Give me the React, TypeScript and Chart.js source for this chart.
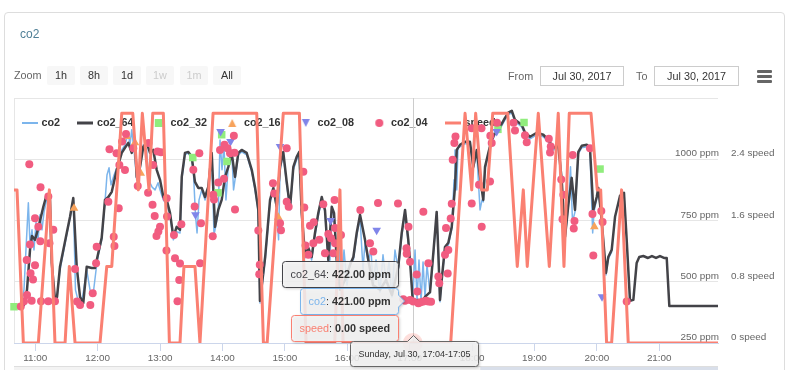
import React, { useEffect, useRef } from 'react';
import { Chart, registerables } from 'chart.js';

Chart.register(...registerables);

const FONT = '"Liberation Sans", Arial, Helvetica, sans-serif';

// x values are minutes after midnight (Jul 30, 2017)
const X_MIN = 639.6;
const X_MAX = 1316.5;
const HOUR_TICKS = [660, 720, 780, 840, 900, 960, 1020, 1080, 1140, 1200, 1260];
const HOUR_LABELS = ['11:00', '12:00', '13:00', '14:00', '15:00', '16:00', '17:00', '18:00', '19:00', '20:00', '21:00'];
const PPM_MIN = 250;
const PPM_MAX = 1250;
const PPM_STEP = 250;
const SPEED_MIN = 0;
const SPEED_MAX = 3.2;
const SPEED_STEP = 0.8;

const HOVER_TIME = 1023.0;
const HOVER_HEADER = 'Sunday, Jul 30, 17:04-17:05';
const NAV_MASK_START = 1088;

const C_CO2 = '#7cb5ec';
const C_64 = '#434348';
const C_32 = '#90ed7d';
const C_16 = '#f7a35c';
const C_08 = '#8085e9';
const C_04 = '#f15c80';
const C_SPEED = '#fa8072';

const CO2: [number, number][] = [
  [647.3,426],[649.2,467],[651.1,630],[653.4,822],[655.0,650],[656.9,712],[658.8,630],[660.8,744],[662.7,671],[664.6,773],
  [666.5,712],[668.5,785],[671.0,834],[673.3,814],[675.9,569],[679.0,426],[681.0,438],[683.8,548],[690.3,691],[693.5,761],
  [696.6,834],[698.7,467],[701.1,426],[705.0,422],[709.5,548],[712.7,467],[715.6,446],[718.5,548],[720.7,610],[723.9,671],
  [727.1,826],[729.0,936],[731.0,965],[732.9,895],[735.8,936],[738.4,965],[743.2,1038],[746.3,1059],[749.5,1108],[751.1,1059],
  [752.8,1120],[755.0,1038],[757.6,916],[760.8,965],[763.9,1059],[767.2,1038],[768.9,916],[772.3,887],[775.2,875],[778.1,904],
  [780.0,875],[783.2,834],[786.4,814],[789.6,773],[792.8,671],[796.0,704],[799.2,699],[800.9,916],[804.0,1018],[807.2,1026],
  [810.5,998],[812.0,957],[814.1,773],[815.6,699],[817.5,834],[820.1,875],[823.3,834],[826.4,875],[829.7,1018],[831.9,691],
  [836.0,781],[837.7,1079],[839.6,957],[841.5,1059],[843.4,834],[845.7,977],[848.9,1038],[850.7,875],[852.1,916],[855.3,1018],
  [858.5,1030],[863.3,1018],[868.2,949],[871.3,875],[874.5,785],[876.1,413],[881.1,589],[885.8,822],[889.0,875],[892.2,793],
  [894.0,671],[895.4,957],[898.5,1018],[901.8,895],[905.0,793],[908.2,957],[911.4,998],[913.9,1018],[916.2,773],[919.4,597],
  [922.6,630],[925.8,589],[929.0,687],[932.2,769],[935.5,834],[938.6,785],[941.8,581],[943.4,589],[945.1,793],[947.3,769],
  [949.9,581],[952.1,671],[954.0,467],[956.9,630],[959.8,487],[962.7,581],[965.9,589],[969.1,687],[972.3,761],[975.2,548],
  [977.1,663],[980.0,581],[982.9,630],[984.8,479],[987.7,589],[991.5,458],[994.4,610],[997.3,499],[1000.2,581],[1003.0,438],
  [1005.9,630],[1009.1,548],[1012.4,687],[1015.6,781],[1018.7,659],[1020.4,589],[1023.0,421],[1025.2,630],[1027.1,426],[1029.0,589],
  [1031.0,418],[1032.9,581],[1034.8,434],[1036.7,569],[1039.6,454],[1042.8,610],[1046.0,777],[1047.6,610],[1049.2,418],[1050.8,499],
  [1054.0,634],[1057.2,650],[1060.5,716],[1062.7,916],[1063.6,1038],[1065.3,875],[1066.5,1047],[1068.4,1051],[1073.2,1063],[1078.0,1063],
  [1081.2,961],[1084.5,1030],[1087.7,793],[1089.6,834],[1090.8,826],[1092.5,961],[1095.7,1018],[1097.3,1038],[1098.9,1071],[1102.1,1100],
  [1106.9,1124],[1111.7,1161],[1114.9,1181],[1118.2,1190],[1121.3,1153],[1127.8,1132],[1131.0,1100],[1135.8,1083],[1142.2,1100],[1148.5,1092],
  [1153.4,1071],[1158.2,1038],[1163.0,1047],[1166.2,908],[1169.4,675],[1172.6,806],[1174.7,969],[1176.6,744],[1179.0,785],[1182.2,1022],
  [1185.5,1047],[1190.3,1051],[1193.4,1038],[1196.0,699],[1197.3,785],[1199.9,838],[1201.4,875],[1203.7,785],[1206.2,663],[1208.8,528],
  [1211.0,593],[1214.3,622],
];

const CO2_64: [number, number][] = [
  [649.2,405],[652.1,467],[655.0,630],[656.9,687],[659.8,671],[663.0,720],[667.8,806],[671.0,855],[674.2,834],[675.9,577],
  [679.0,426],[681.0,438],[683.8,561],[690.3,699],[693.5,765],[696.6,842],[699.9,561],[703.1,438],[706.2,413],[709.5,561],
  [714.3,556],[717.5,556],[720.7,618],[723.9,679],[727.1,834],[730.3,846],[733.6,867],[738.4,957],[743.2,1026],[746.3,1047],
  [749.5,1067],[752.8,1026],[755.9,1067],[757.6,928],[760.8,969],[763.9,1051],[767.2,1067],[770.4,1026],[773.5,1038],[776.8,957],
  [780.0,916],[783.2,846],[786.4,834],[789.6,781],[792.8,683],[796.0,724],[799.2,712],[800.9,928],[804.0,1026],[807.2,1030],
  [810.5,1010],[813.6,908],[816.8,883],[820.1,883],[823.3,846],[826.4,887],[829.7,1026],[832.9,724],[836.0,793],[839.3,834],
  [842.5,928],[845.7,969],[848.9,1026],[852.1,928],[855.3,1026],[858.5,1038],[863.3,1026],[868.2,957],[871.3,887],[874.5,793],
  [876.1,422],[881.1,601],[885.8,834],[889.0,883],[892.2,806],[895.4,969],[898.5,1030],[901.8,908],[905.0,802],[908.2,969],
  [911.4,1010],[913.9,1030],[916.2,781],[919.4,610],[922.6,638],[925.8,601],[929.0,699],[932.2,781],[935.5,846],[938.6,793],
  [941.8,589],[945.1,806],[947.3,781],[949.9,589],[953.1,467],[957.9,507],[962.7,569],[965.9,601],[969.1,699],[972.3,773],
  [977.1,671],[980.3,589],[984.8,487],[991.5,467],[997.3,507],[1003.0,446],[1009.1,561],[1012.4,699],[1015.6,793],[1018.7,671],
  [1020.8,560],[1023.0,422],[1028.1,426],[1031.6,418],[1034.8,438],[1039.6,458],[1042.8,618],[1046.0,785],[1047.6,618],[1049.2,426],
  [1050.8,507],[1054.0,642],[1057.2,659],[1060.5,724],[1063.6,887],[1065.3,1038],[1068.4,1059],[1073.2,1071],[1078.0,1071],[1081.2,969],
  [1084.5,1038],[1087.7,928],[1090.8,834],[1092.5,969],[1095.7,1026],[1098.9,1079],[1102.1,1108],[1106.9,1132],[1111.7,1169],[1114.9,1190],
  [1118.2,1198],[1121.3,1161],[1127.8,1141],[1131.0,1108],[1135.8,1092],[1142.2,1108],[1148.5,1100],[1153.4,1079],[1158.2,1047],[1163.0,1055],
  [1166.2,916],[1169.4,683],[1172.6,814],[1175.8,924],[1179.0,793],[1182.2,1030],[1185.5,1055],[1190.3,1059],[1193.4,1047],[1196.6,793],
  [1199.9,846],[1201.4,883],[1203.7,793],[1206.2,671],[1208.8,536],[1211.0,601],[1214.3,630],[1217.5,765],[1220.7,822],[1222.3,851],
  [1226.1,863],[1228.7,671],[1231.9,422],[1235.1,426],[1238.3,577],[1240.8,601],[1244.7,605],[1249.2,597],[1253.0,605],[1256.9,597],
  [1260.7,605],[1264.6,597],[1267.2,597],[1269.7,401],[1316.2,401],
];

const CO2_32: [number, number][] = [
  [639.6,398],[811.5,1007],[835.8,863],[839.3,1100],[844.4,991],[1104.9,1122],[1130.0,1150],[1203.1,960],
];

const CO2_16: [number, number][] = [
  [697.3,800],[748.0,1093],[755.9,1067],[761.4,943],[893.7,763],[1197.6,725],
];

const CO2_08: [number, number][] = [
  [814.1,773],[838.2,1113],[847.8,1072],[895.4,1052],[944.1,750],[988.3,710],[1103.7,1113],[1205.0,439],
];

const CO2_04: [number, number][] = [
  [646.1,399],[649.2,420],[651.8,589],[652.1,446],[654.3,980],[655.0,652],[655.5,535],[656.6,422],[657.9,509],[659.8,759],
  [659.8,567],[663.0,725],[665.1,886],[664.9,665],[665.6,420],[672.6,848],[673.7,657],[672.6,420],[677.4,712],[679.0,420],
  [698.3,552],[700.2,419],[703.1,405],[713.0,405],[715.3,453],[718.5,576],[719.1,643],[730.3,827],[731.4,1041],[735.5,684],
  [736.2,646],[738.2,1025],[740.3,800],[740.9,977],[743.5,1072],[746.3,956],[747.3,1103],[754.3,1045],[758.6,891],[768.5,863],
  [768.9,1066],[773.3,977],[772.8,814],[774.9,768],[777.6,1032],[780.9,1029],[776.6,687],[778.4,705],[780.0,725],[786.4,841],
  [786.7,766],[786.2,628],[793.4,691],[794.4,596],[800.5,735],[799.2,574],[798.5,507],[796.8,420],[812.0,957],[813.3,807],
  [817.8,1025],[818.5,576],[819.4,739],[830.7,686],[831.2,855],[831.9,836],[836.0,905],[837.7,1038],[841.5,920],[842.0,1059],
  [844.9,1045],[847.3,1025],[851.0,1096],[851.6,1027],[852.1,795],[874.5,709],[875.9,569],[875.4,531],[888.6,902],[889.8,860],
  [895.4,739],[896.3,710],[901.8,1045],[901.8,827],[903.7,806],[917.8,949],[918.7,803],[919.9,648],[922.6,610],[924.2,729],
  [927.8,743],[927.4,657],[933.2,671],[937.0,816],[938.6,616],[941.8,695],[944.4,678],[947.8,834],[948.3,719],[946.6,616],
  [948.3,657],[954.0,691],[972.6,793],[981.9,657],[985.1,623],[989.6,821],[1008.8,819],[1013.9,429],[1015.6,422],[1017.0,637],
  [1017.2,614],[1018.9,725],[1020.4,582],[1020.4,426],[1023.5,419],[1026.8,530],[1027.4,460],[1028.4,412],[1030.5,416],[1033.2,786],
  [1033.2,419],[1035.8,422],[1038.0,576],[1038.0,419],[1040.6,418],[1047.6,521],[1048.5,494],[1054.0,610],[1055.0,719],[1057.2,630],
  [1056.6,534],[1059.5,758],[1060.5,818],[1061.4,998],[1063.0,1066],[1064.1,1093],[1079.7,819],[1079.7,1127],[1086.7,896],[1089.1,1127],
  [1089.3,724],[1097.3,909],[1097.6,1096],[1098.9,1066],[1104.0,1149],[1119.9,1149],[1121.3,1117],[1130.9,1098],[1132.6,1069],[1153.8,1084],
  [1155.7,1052],[1155.0,1028],[1165.8,917],[1167.8,855],[1167.0,755],[1176.8,1017],[1178.5,748],[1177.8,717],[1193.4,1045],[1195.8,777],
  [1196.6,607],[1204.3,789],[1205.5,744],[1228.7,419],
];

const SPEED: [number, number][] = [
  [639.6,2],[642.5,2],[648.6,0],[663.0,0],[673.6,2],[679.0,0],[688.7,0],[692.8,1],[698.3,0],[722.3,0],
  [728.8,1],[733.6,1],[743.2,3],[753.8,3],[759.1,2],[763.0,3],[769.4,2],[773.0,3],[783.2,3],[789.0,0],
  [799.2,0],[803.0,1],[813.6,1],[818.4,0],[831.0,3],[873.0,3],[879.4,0],[883.0,0],[898.5,3],[914.0,3],
  [920.4,0],[948.0,0],[953.0,2],[956.0,0],[1023.0,0],[1059.5,0],[1073.3,3],[1079.7,2],[1083.5,3],[1089.3,2],
  [1094.7,2],[1099.9,3],[1114.3,3],[1123.5,1],[1129.3,2],[1133.1,1],[1143.7,3],[1154.3,1],[1162.9,3],[1168.4,1],
  [1173.5,3],[1194.4,3],[1200.4,2],[1203.7,2],[1209.4,0],[1214.2,0],[1223.8,2],[1230.2,0],[1316.0,0],
];

const TIP_SERIES = [
  { label: 'co2_64', data: CO2_64, color: C_64, axis: 'y', unit: 'ppm' },
  { label: 'co2', data: CO2, color: C_CO2, axis: 'y', unit: 'ppm' },
  { label: 'speed', data: SPEED, color: C_SPEED, axis: 'y1', unit: 'speed' },
];

const LEGEND_PAD = 18.9;
const LEGEND_BOX = 12.6;

const pts = (arr: [number, number][]) => arr.map(([x, y]) => ({ x, y }));

function hexA(hex: string, a: number) {
  const n = parseInt(hex.slice(1), 16);
  return `rgba(${(n >> 16) & 255},${(n >> 8) & 255},${n & 255},${a})`;
}

function boxPath(ctx: any, x: number, y: number, w: number, h: number, rightArrowY?: number, upArrowX?: number) {
  const r = 3;
  ctx.beginPath();
  ctx.moveTo(x + r, y);
  if (upArrowX !== undefined) {
    ctx.lineTo(upArrowX - 6, y);
    ctx.lineTo(upArrowX, y - 6);
    ctx.lineTo(upArrowX + 6, y);
  }
  ctx.lineTo(x + w - r, y);
  ctx.arcTo(x + w, y, x + w, y + r, r);
  if (rightArrowY !== undefined) {
    ctx.lineTo(x + w, rightArrowY - 6);
    ctx.lineTo(x + w + 6, rightArrowY);
    ctx.lineTo(x + w, rightArrowY + 6);
  }
  ctx.lineTo(x + w, y + h - r);
  ctx.arcTo(x + w, y + h, x + w - r, y + h, r);
  ctx.lineTo(x + r, y + h);
  ctx.arcTo(x, y + h, x, y + h - r, r);
  ctx.lineTo(x, y + r);
  ctx.arcTo(x, y, x + r, y, r);
  ctx.closePath();
}

function fillBox(ctx: any, stroke: string) {
  ctx.save();
  ctx.shadowColor = 'rgba(0,0,0,0.28)';
  ctx.shadowBlur = 3;
  ctx.shadowOffsetX = 1;
  ctx.shadowOffsetY = 1;
  ctx.fillStyle = 'rgba(247,247,247,0.85)';
  ctx.fill();
  ctx.restore();
  ctx.strokeStyle = stroke;
  ctx.lineWidth = 1;
  ctx.stroke();
}

const framePlugin = {
  id: 'frame',
  afterLayout(chart: any) {
    // float the legend over the top of the plot area, like the original
    const lg = chart.legend;
    const ca = chart.chartArea;
    if (lg) {
      lg.left = ca.left - 9.5;
      lg.right = ca.right;
      lg.top = ca.top + 0.7;
      lg.bottom = lg.top + lg.height;
    }
  },
  beforeDatasetsDraw(chart: any) {
    const { ctx, chartArea: ca, scales } = chart;
    const ax = Math.round(scales.x.getPixelForValue(HOVER_TIME)) + 0.5;
    ctx.save();
    ctx.lineWidth = 1;
    ctx.strokeStyle = '#e6e6e6';
    ctx.beginPath();
    ctx.moveTo(ca.left + 0.5, ca.top);
    ctx.lineTo(ca.left + 0.5, ca.bottom);
    ctx.stroke();
    ctx.strokeStyle = '#cccccc';
    ctx.beginPath();
    ctx.moveTo(ax, ca.top);
    ctx.lineTo(ax, ca.bottom);
    ctx.stroke();
    ctx.restore();
  },
  afterDatasetsDraw(chart: any) {
    const { ctx, scales } = chart;
    const ax = scales.x.getPixelForValue(HOVER_TIME);
    const s = TIP_SERIES[2];
    const v = s.data.find((p) => p[0] === HOVER_TIME)![1];
    const ay = scales[s.axis].getPixelForValue(v);
    ctx.save();
    ctx.fillStyle = hexA(s.color, 0.25);
    ctx.beginPath();
    ctx.arc(ax, ay, 10, 0, Math.PI * 2);
    ctx.fill();
    ctx.restore();
  },
  afterDraw(chart: any) {
    const { ctx, chartArea: ca, scales } = chart;
    const ax = Math.round(scales.x.getPixelForValue(HOVER_TIME)) + 0.5;
    ctx.save();
    // navigator strip
    const navY = ca.bottom + 23;
    const maskX = scales.x.getPixelForValue(NAV_MASK_START);
    ctx.fillStyle = '#f3f3f3';
    ctx.fillRect(ca.left, navY, ca.right - ca.left, 10);
    ctx.fillStyle = 'rgba(102,133,194,0.18)';
    ctx.fillRect(maskX, navY, ca.right - maskX, 10);
    ctx.strokeStyle = '#dedede';
    ctx.lineWidth = 1;
    ctx.beginPath();
    ctx.moveTo(ca.left, navY + 0.5);
    ctx.lineTo(ca.right, navY + 0.5);
    ctx.stroke();

    // split tooltip
    const items = TIP_SERIES.map((s) => {
      const value = s.data.find((p) => p[0] === HOVER_TIME)![1];
      return { ...s, value, ay: scales[s.axis].getPixelForValue(value) };
    }).sort((a, b) => a.ay - b.ay);
    const H = 26;
    const tops: number[] = [];
    let limit = ca.bottom - 2.5;
    for (let i = items.length - 1; i >= 0; i--) {
      const c = Math.min(items[i].ay, limit - H / 2);
      tops[i] = Math.round(c - H / 2) + 0.5;
      limit = tops[i] - 1.5;
    }
    items.forEach((it, i) => {
      ctx.font = `10.8px ${FONT}`;
      const nameW = ctx.measureText(it.label).width;
      const sepW = ctx.measureText(': ').width;
      ctx.font = `bold 10.8px ${FONT}`;
      const valTxt = `${it.value.toFixed(2)} ${it.unit}`;
      const valW = ctx.measureText(valTxt).width;
      const w = Math.round(nameW + sepW + valW + 16);
      const right = ax - 15;
      const left = right - w;
      const top = tops[i];
      const arrowY = it.ay > top + 6 && it.ay < top + H - 6 ? it.ay : undefined;
      boxPath(ctx, left, top, w, H, arrowY);
      fillBox(ctx, it.color);
      ctx.textBaseline = 'middle';
      ctx.textAlign = 'left';
      const ty = top + H / 2 + 0.5;
      ctx.font = `10.8px ${FONT}`;
      ctx.fillStyle = it.color;
      ctx.fillText(it.label, left + 8, ty);
      ctx.fillStyle = '#333333';
      ctx.fillText(': ', left + 8 + nameW, ty);
      ctx.font = `bold 10.8px ${FONT}`;
      ctx.fillText(valTxt, left + 8 + nameW + sepW, ty);
    });

    // header (x value)
    ctx.font = `9px ${FONT}`;
    const hw = Math.round(ctx.measureText(HOVER_HEADER).width + 16);
    const hx = Math.round(ax - hw / 2) + 0.5;
    const hy = ca.bottom - 1.5;
    boxPath(ctx, hx, hy, hw, 25, undefined, ax);
    fillBox(ctx, '#666666');
    ctx.fillStyle = '#333333';
    ctx.textAlign = 'center';
    ctx.textBaseline = 'middle';
    ctx.fillText(HOVER_HEADER, hx + hw / 2, hy + 13);
    ctx.restore();
  },
};

export default function App() {
  const ref = useRef<HTMLCanvasElement>(null);

  useEffect(() => {
    const canvas = ref.current!;
    const sym = (draw: (g: CanvasRenderingContext2D) => void) => {
      const c = document.createElement('canvas');
      c.width = 16;
      c.height = 12;
      draw(c.getContext('2d')!);
      return c;
    };
    const lineSym = (color: string, w: number) =>
      sym((g) => {
        g.strokeStyle = color;
        g.lineWidth = w;
        g.beginPath();
        g.moveTo(0, 6);
        g.lineTo(16, 6);
        g.stroke();
      });
    const symbols = [
      lineSym(C_CO2, 2),
      lineSym(C_64, 3),
      sym((g) => { g.fillStyle = C_32; g.fillRect(4, 2, 8, 8); }),
      sym((g) => { g.fillStyle = C_16; g.beginPath(); g.moveTo(8, 2); g.lineTo(12, 10); g.lineTo(4, 10); g.closePath(); g.fill(); }),
      sym((g) => { g.fillStyle = C_08; g.beginPath(); g.moveTo(4, 2); g.lineTo(12, 2); g.lineTo(8, 10); g.closePath(); g.fill(); }),
      sym((g) => { g.fillStyle = C_04; g.beginPath(); g.arc(8, 6, 4, 0, Math.PI * 2); g.fill(); }),
      lineSym(C_SPEED, 3),
    ];

    const tickFont = { family: FONT, size: 9.9 };
    const lineBase = { pointRadius: 0, borderJoinStyle: 'round', borderCapStyle: 'round', tension: 0 };
    const markerBase = { showLine: false, pointBorderWidth: 0, clip: false, yAxisID: 'y' };

    const chart = new Chart(canvas, {
      type: 'line',
      data: {
        datasets: [
          { ...lineBase, label: 'co2', data: pts(CO2), borderColor: C_CO2, borderWidth: 1.5, yAxisID: 'y', order: 7 },
          { ...lineBase, label: 'co2_64', data: pts(CO2_64), borderColor: C_64, borderWidth: 2.5, yAxisID: 'y', order: 6 },
          { ...markerBase, label: 'co2_32', data: pts(CO2_32), pointStyle: 'rect', pointRadius: 5.3, backgroundColor: C_32, borderColor: C_32, order: 5 },
          { ...markerBase, label: 'co2_16', data: pts(CO2_16), pointStyle: 'triangle', pointRadius: 5, backgroundColor: C_16, borderColor: C_16, order: 4 },
          { ...markerBase, label: 'co2_08', data: pts(CO2_08), pointStyle: 'triangle', pointRotation: 180, pointRadius: 5, backgroundColor: C_08, borderColor: C_08, order: 3 },
          { ...markerBase, label: 'co2_04', data: pts(CO2_04), pointStyle: 'circle', pointRadius: 4, backgroundColor: C_04, borderColor: C_04, order: 2 },
          { ...lineBase, label: 'speed', data: pts(SPEED), borderColor: C_SPEED, borderWidth: 3, yAxisID: 'y1', order: 1 },
        ] as any,
      },
      options: {
        responsive: false,
        animation: false,
        events: [],
        // legend row (10.8 + 18.9 + 10) sits above; plot top lands at y = 98
        layout: { padding: { left: 14, top: 58.3, right: 0, bottom: 0 } },
        plugins: {
          tooltip: { enabled: false },
          legend: {
            position: 'top',
            align: 'start',
            labels: {
              usePointStyle: true,
              pointStyleWidth: LEGEND_BOX,
              padding: LEGEND_PAD,
              color: '#333333',
              font: { family: FONT, size: 10.8, weight: 'bold' },
              generateLabels: (ch: any) =>
                ch.data.datasets.map((ds: any, i: number) => ({
                  text: ds.label,
                  datasetIndex: i,
                  pointStyle: symbols[i],
                  fillStyle: 'rgba(0,0,0,0)',
                  strokeStyle: 'rgba(0,0,0,0)',
                  lineWidth: 0,
                  hidden: false,
                  fontColor: '#333333',
                  rotation: 0,
                })),
            },
          },
        },
        scales: {
          x: {
            type: 'linear',
            min: X_MIN,
            max: X_MAX,
            afterBuildTicks: (axis: any) => { axis.ticks = HOUR_TICKS.map((value) => ({ value })); },
            afterFit: (axis: any) => { axis.height = 27; },
            ticks: {
              autoSkip: false,
              maxRotation: 0,
              padding: 1,
              color: '#666666',
              font: tickFont,
              callback: (v: any) => HOUR_LABELS[HOUR_TICKS.indexOf(Number(v))] ?? '',
            },
            grid: { drawOnChartArea: false, drawTicks: true, tickLength: 8, tickColor: '#ccd6eb', color: '#ccd6eb' },
            border: { display: true, color: '#ccd6eb', width: 1 },
          },
          y: {
            type: 'linear',
            position: 'right',
            weight: 0,
            min: PPM_MIN,
            max: PPM_MAX,
            afterFit: (axis: any) => { axis.width = 0; },
            ticks: {
              stepSize: PPM_STEP,
              mirror: true,
              padding: 1,
              labelOffset: -5.5,
              color: '#666666',
              font: tickFont,
              callback: (v: any, i: number, ticks: any[]) => (i === ticks.length - 1 ? '' : `${v} ppm`),
            },
            grid: { color: '#e6e6e6', drawTicks: false },
            border: { display: false },
          },
          y1: {
            type: 'linear',
            position: 'right',
            weight: 1,
            min: SPEED_MIN,
            max: SPEED_MAX,
            afterFit: (axis: any) => { axis.width = 77; },
            ticks: {
              stepSize: SPEED_STEP,
              padding: 13,
              labelOffset: -5.5,
              color: '#666666',
              font: tickFont,
              callback: (v: any, i: number, ticks: any[]) =>
                i === ticks.length - 1 ? '' : `${Math.round(Number(v) * 10) / 10} speed`,
            },
            grid: { drawOnChartArea: false, drawTicks: false },
            border: { display: false },
          },
        },
      } as any,
      plugins: [framePlugin as any],
    });
    return () => chart.destroy();
  }, []);

  const btn = (label: string, left: number, disabled = false) => (
    <div
      key={label}
      style={{
        position: 'absolute', left, top: 66, width: 28, height: 19, lineHeight: '19px', textAlign: 'center',
        background: '#f7f7f7', borderRadius: 2, fontSize: 10.8, color: disabled ? '#cccccc' : '#333333',
      }}
    >
      {label}
    </div>
  );

  return (
    <div style={{ position: 'absolute', left: 0, top: 0, width: 795, height: 370, overflow: 'hidden', background: '#ffffff', fontFamily: FONT }}>
      <div style={{ position: 'absolute', left: 4, top: 12, width: 781, height: 420, border: '1px solid #dddddd', borderRadius: 4, boxSizing: 'border-box' }} />
      <canvas ref={ref} width={795} height={370} style={{ position: 'absolute', left: 0, top: 0, width: 795, height: 370 }} />
      <div style={{ position: 'absolute', left: 20, top: 27, fontSize: 12, lineHeight: '14px', color: '#4f7f96' }}>co2</div>
      <div style={{ position: 'absolute', left: 14, top: 66, height: 19, lineHeight: '19px', fontSize: 10.8, color: '#666666' }}>Zoom</div>
      {btn('1h', 47)}
      {btn('8h', 80)}
      {btn('1d', 113)}
      {btn('1w', 146, true)}
      {btn('1m', 180, true)}
      {btn('All', 213)}
      <div style={{ position: 'absolute', left: 508, top: 66, height: 20, lineHeight: '20px', fontSize: 10.8, color: '#666666' }}>From</div>
      <div style={{ position: 'absolute', left: 540, top: 66, width: 84, height: 20, boxSizing: 'border-box', border: '1px solid #cccccc', lineHeight: '18px', textAlign: 'center', fontSize: 10.8, color: '#333333' }}>Jul 30, 2017</div>
      <div style={{ position: 'absolute', left: 636, top: 66, height: 20, lineHeight: '20px', fontSize: 10.8, color: '#666666' }}>To</div>
      <div style={{ position: 'absolute', left: 654, top: 66, width: 85, height: 20, boxSizing: 'border-box', border: '1px solid #cccccc', lineHeight: '18px', textAlign: 'center', fontSize: 10.8, color: '#333333' }}>Jul 30, 2017</div>
      {[70, 75, 80].map((t) => (
        <div key={t} style={{ position: 'absolute', left: 757, top: t, width: 15, height: 2.7, background: '#666666', borderRadius: 1 }} />
      ))}
    </div>
  );
}
